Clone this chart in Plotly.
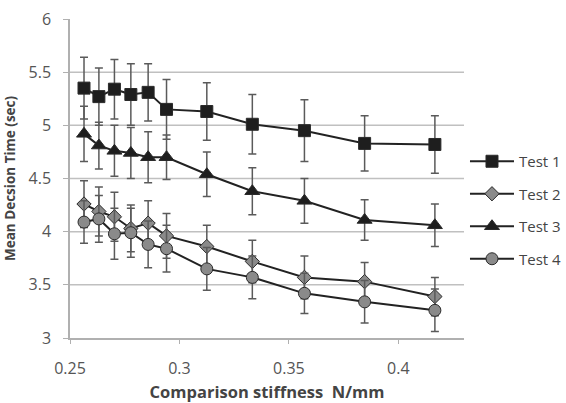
import plotly.graph_objects as go

stiffness = [0.2564, 0.2632, 0.2703, 0.2778, 0.2857, 0.2941, 0.3125, 0.3333, 0.3571, 0.3846, 0.4167]
test1 = [5.35, 5.27, 5.34, 5.29, 5.31, 5.15, 5.13, 5.01, 4.95, 4.83, 4.82]
test1_err = [0.29, 0.27, 0.28, 0.29, 0.27, 0.28, 0.27, 0.28, 0.29, 0.26, 0.27]
test2 = [4.26, 4.19, 4.14, 4.03, 4.08, 3.96, 3.86, 3.72, 3.57, 3.53, 3.39]
test2_err = [0.22, 0.23, 0.23, 0.22, 0.21, 0.21, 0.20, 0.20, 0.20, 0.18, 0.18]
test3 = [4.92, 4.81, 4.76, 4.74, 4.70, 4.70, 4.54, 4.38, 4.29, 4.11, 4.06]
test3_err = [0.26, 0.22, 0.24, 0.24, 0.24, 0.21, 0.21, 0.22, 0.21, 0.19, 0.20]
test4 = [4.09, 4.12, 3.98, 3.99, 3.88, 3.84, 3.65, 3.57, 3.42, 3.34, 3.26]
test4_err = [0.20, 0.22, 0.24, 0.23, 0.22, 0.22, 0.20, 0.20, 0.19, 0.20, 0.20]

x_ticks = [0.25, 0.3, 0.35, 0.4]
x_labels = ["0.25", "0.3", "0.35", "0.4"]
y_ticks = [3, 3.5, 4, 4.5, 5, 5.5, 6]
y_labels = ["3", "3.5", "4", "4.5", "5", "5.5", "6"]

names = ["Test 1", "Test 2", "Test 3", "Test 4"]
ys = [test1, test2, test3, test4]
errs = [test1_err, test2_err, test3_err, test4_err]
symbols = ["square", "diamond", "triangle-up", "circle"]
fills = ["#1e1e1e", "#8a8a8a", "#1e1e1e", "#8a8a8a"]
sizes = [12, 11, 13, 12]

fig = go.Figure()
for i in range(4):
    fig.add_trace(go.Scatter(
        x=stiffness, y=ys[i], name=names[i], legendgroup=names[i],
        mode="lines+markers",
        line=dict(color="#222222", width=2),
        marker=dict(symbol=symbols[i], size=sizes[i], color=fills[i],
                    line=dict(color="#2a2a2a", width=1)),
        error_y=dict(type="data", array=errs[i], visible=True,
                     color="#5a5a5a", thickness=1.5, width=4),
    ))

# horizontal gridlines (none at the top value, as in the reference)
for v in y_ticks[1:-1]:
    fig.add_shape(type="line", xref="paper", x0=0, x1=1, yref="y", y0=v, y1=v,
                  line=dict(color="#c0c0c0", width=1.5), layer="below")

font_family = "Open Sans, DejaVu Sans, sans-serif"
fig.update_layout(
    width=566, height=403,
    margin=dict(l=70, r=102, t=19, b=65, autoexpand=False),
    paper_bgcolor="white", plot_bgcolor="white",
    font=dict(family=font_family, size=16, color="#555555"),
    showlegend=True,
    legend=dict(x=1.0025, y=0.605, xanchor="left", yanchor="top",
                tracegroupgap=10, itemwidth=44,
                font=dict(size=15, color="#444444"),
                bgcolor="rgba(0,0,0,0)"),
    xaxis=dict(range=[0.25, 0.43], tickvals=x_ticks, ticktext=x_labels,
               showgrid=False, zeroline=False, automargin=False,
               showline=True, linecolor="#b0b0b0", linewidth=1.5,
               ticks="outside", ticklen=4, tickcolor="#b0b0b0",
               ticklabelstandoff=11,
               tickfont=dict(size=16, color="#555555"),
               title=dict(text="<b>Comparison stiffness  N/mm</b>",
                          font=dict(size=16.5, color="#444444"), standoff=10)),
    yaxis=dict(range=[3, 6], tickvals=y_ticks, ticktext=y_labels,
               showgrid=False, zeroline=False, automargin=False,
               showline=True, linecolor="#b0b0b0", linewidth=1.5,
               ticks="outside", ticklen=5, tickcolor="#b0b0b0",
               ticklabelstandoff=9,
               tickfont=dict(size=16, color="#555555"),
               title=dict(text="<b>Mean Decsion Time (sec)</b>",
                          font=dict(size=13.5, color="#444444"), standoff=10)),
)

fig.write_html("out.html")
